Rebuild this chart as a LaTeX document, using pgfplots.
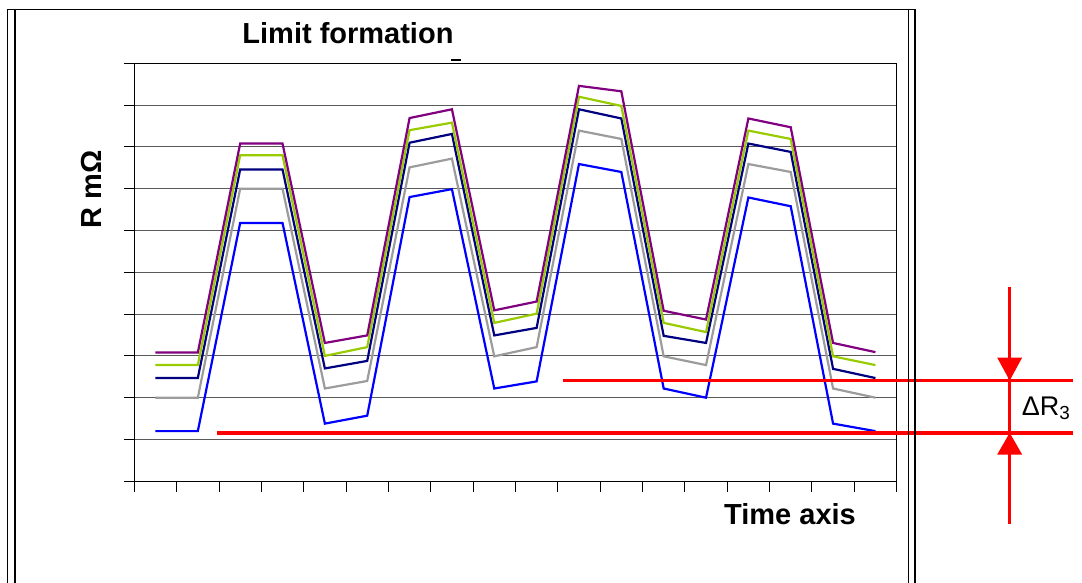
\documentclass[border=0pt]{standalone}
\usepackage{pgfplots}
\pgfplotsset{compat=1.18}
\usepackage{pgfplotstable}
\usepackage{fontspec}
\setmainfont{Liberation Sans}
\definecolor{cPurple}{HTML}{800080}
\definecolor{cGreen}{HTML}{99CC00}
\definecolor{cNavy}{HTML}{000080}
\definecolor{cGray}{HTML}{9C9C9C}
\definecolor{cBlue}{HTML}{0000FF}
\definecolor{cGrid}{HTML}{5A5A5A}

\pgfplotstableread{
x    purple green navy gray blue
0.5  3.08 2.78 2.47 2.00 1.20
1.5  3.08 2.78 2.47 2.00 1.20
2.5  8.08 7.80 7.46 7.00 6.18
3.5  8.08 7.80 7.46 7.00 6.18
4.5  3.31 3.00 2.70 2.22 1.38
5.5  3.49 3.21 2.88 2.40 1.57
6.5  8.69 8.40 8.10 7.51 6.80
7.5  8.90 8.58 8.31 7.72 6.99
8.5  4.09 3.79 3.49 2.99 2.22
9.5  4.30 4.01 3.67 3.21 2.39
10.5 9.46 9.20 8.90 8.39 7.59
11.5 9.33 8.98 8.68 8.19 7.40
12.5 4.08 3.79 3.48 2.99 2.22
13.5 3.87 3.57 3.31 2.78 2.00
14.5 8.68 8.39 8.08 7.59 6.79
15.5 8.47 8.19 7.88 7.40 6.58
16.5 3.31 2.99 2.69 2.22 1.38
17.5 3.09 2.78 2.47 2.00 1.20
}\datatable

\begin{document}
\begin{tikzpicture}
\useasboundingbox (0,0) rectangle (541pt,-291.5pt);
\begin{axis}[
  at={(67.15pt,-240.65pt)}, anchor=south west,
  scale only axis, width=381.15pt, height=209pt,
  xmin=0, xmax=18, ymin=0, ymax=10,
  xtick={0,...,18}, ytick={0,...,10},
  xticklabels={}, yticklabels={},
  tick align=outside, xtick pos=bottom, ytick pos=left,
  major tick length=5.3pt,
  tick style={black, line width=0.5pt},
  axis line style={black, line width=0.6pt},
  ymajorgrids, grid style={cGrid, line width=0.55pt},
  clip=false,
  title={Limit formation},
  title style={at={(axis description cs:0.2803,1.0175)}, anchor=base,
    font=\fontsize{14.5}{17}\selectfont\bfseries},
  xlabel={Time axis},
  xlabel style={at={(axis description cs:0.8602,-0.1045)}, anchor=base,
    font=\fontsize{14.5}{17}\selectfont\bfseries},
  ylabel={R mΩ},
  ylabel style={at={(axis description cs:-0.0429,0.6988)}, anchor=base, rotate=0,
    font=\fontsize{14.5}{17}\selectfont\bfseries},
  every axis plot/.append style={line width=1.1pt, mark=none, line join=miter},
]
\addplot[cBlue]   table[x=x,y=blue]   {\datatable};
\addplot[cGray]   table[x=x,y=gray]   {\datatable};
\addplot[cNavy]   table[x=x,y=navy]   {\datatable};
\addplot[cGreen]  table[x=x,y=green]  {\datatable};
\addplot[cPurple] table[x=x,y=purple] {\datatable};
% annotation
\draw[red, line width=1.8pt] (axis cs:1.953,1.16) -- (axis cs:22.16,1.16);
\draw[red, line width=1.8pt] (axis cs:10.12,2.41) -- (axis cs:22.16,2.41);
\draw[red, line width=1.5pt] (axis cs:20.67,4.65) -- (axis cs:20.67,-1.02);
\fill[red] (axis cs:20.67,2.41) -- (axis cs:20.375,2.96) -- (axis cs:20.965,2.96) -- cycle;
\fill[red] (axis cs:20.67,1.16) -- (axis cs:20.375,0.64) -- (axis cs:20.965,0.64) -- cycle;
\node[anchor=base west, inner sep=0pt, font=\fontsize{13.5}{16}\selectfont]
  at (axis cs:20.95,1.57) {ΔR\textsubscript{3}};
\end{axis}
% frame
\draw[black, line width=0.7pt] (3.85pt,-291.5pt) -- (3.85pt,-4.85pt) -- (457.5pt,-4.85pt) -- (457.5pt,-291.5pt);
\draw[black, line width=0.7pt] (7.5pt,-4.85pt) -- (7.5pt,-291.5pt);
\draw[black, line width=0.7pt] (454.15pt,-4.85pt) -- (454.15pt,-291.5pt);
\draw[black, line width=0.7pt] (225.5pt,-30pt) -- (230.5pt,-30pt);
\end{tikzpicture}
\end{document}
